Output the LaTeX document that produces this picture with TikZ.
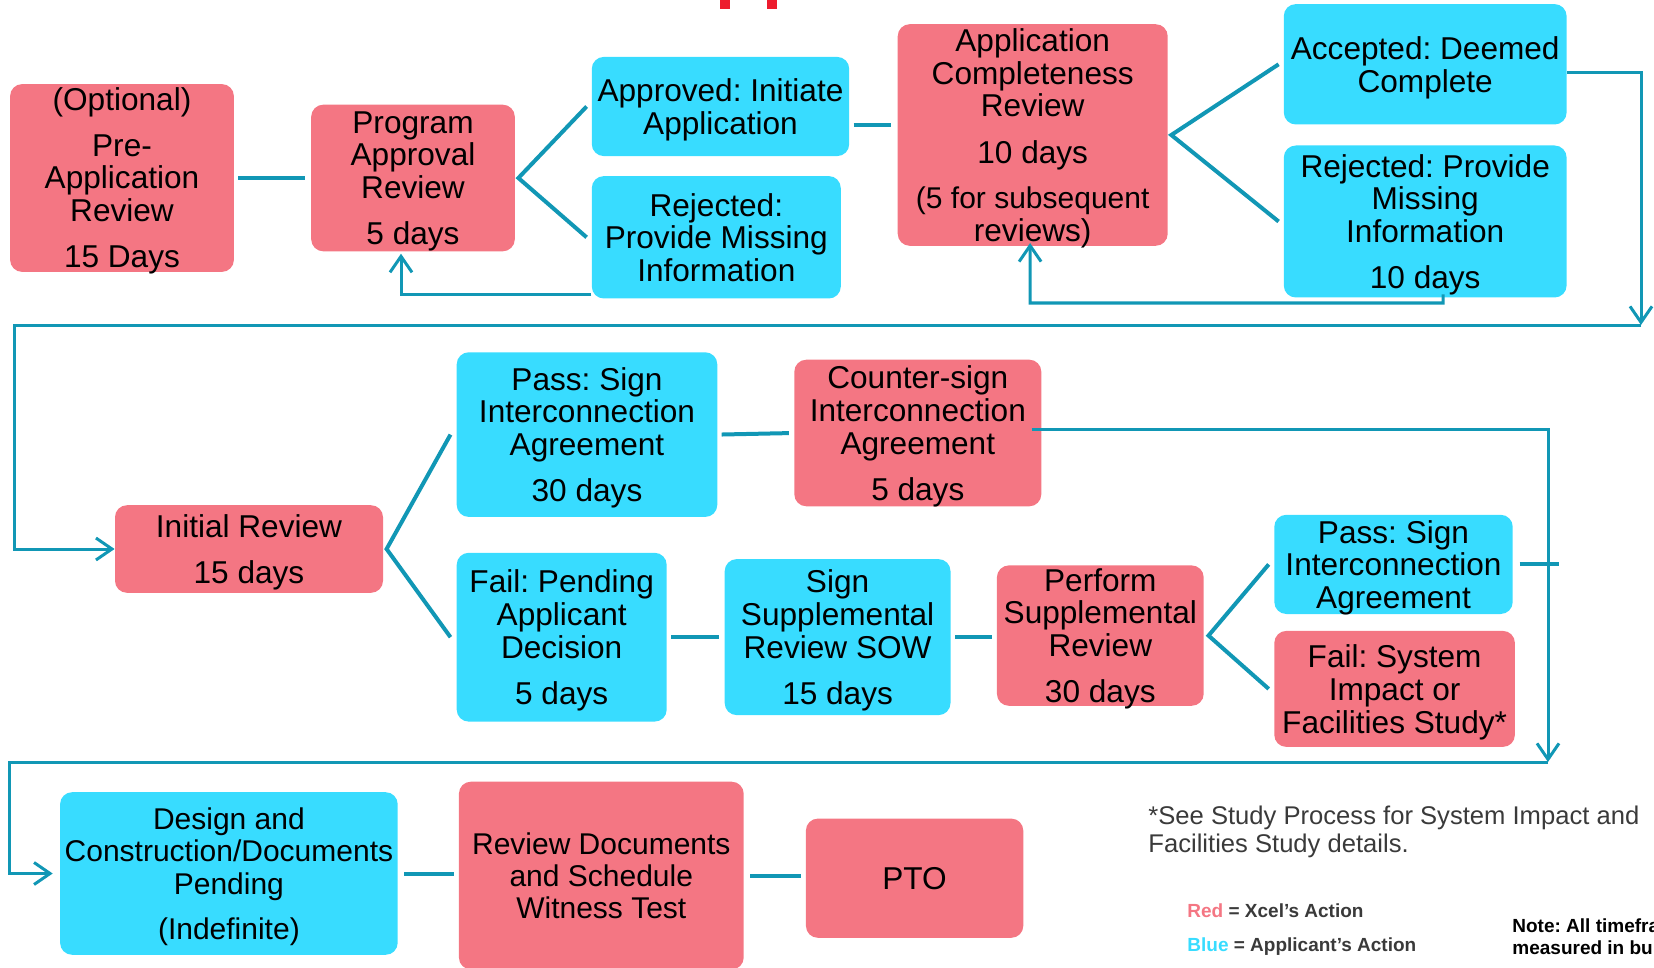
\documentclass[tikz,border=0pt]{standalone}
\usepackage{fontspec}
\setmainfont{Liberation Sans}
\usetikzlibrary{arrows.meta,positioning}
\definecolor{XcelRed}{HTML}{F47683}
\definecolor{ApplicantBlue}{HTML}{38DCFF}
\definecolor{FlowTeal}{HTML}{1197B5}
\definecolor{TitleRed}{HTML}{ED1C2E}
\definecolor{NoteGray}{HTML}{3A3A3A}
\frenchspacing

\begin{document}
\begin{tikzpicture}[x=0.5pt,y=-0.5pt,
    stage/.style={rounded corners=6pt,inner sep=0pt,align=center,text depth=0pt,
      font=\fontsize{15.8}{16.35}\selectfont},
    xcel/.style={stage,fill=XcelRed},
    applicant/.style={stage,fill=ApplicantBlue},
    link/.style={draw=FlowTeal,line width=2pt},
    route/.style={draw=FlowTeal,line width=1.5pt},
    tip/.style={route,-{Straight Barb[length=8pt,width=11pt]}},
    legend/.style={anchor=west,inner sep=0pt,font=\bfseries\fontsize{9.5}{11}\selectfont}
  ]
    \useasboundingbox (0,0) rectangle (1654,968);
    \clip (0,0) rectangle (1654,968);
    \fill[TitleRed] (720,0) rectangle (730,9);
    \fill[TitleRed] (767,0) rectangle (777,9);

    \node[xcel,minimum width=111.9pt,minimum height=93.9pt] (preapp) at (122,178)
      {(Optional)\\[6.3pt]Pre-\\Application\\Review\\[6.8pt]15 Days};
    \node[xcel,minimum width=101.8pt,minimum height=73.3pt] (progrev) at (413,178)
      {Program\\Approval\\Review\\[6.8pt]5 days};
    \node[applicant,minimum width=128.7pt,minimum height=49.6pt] (approved) at (720.5,106.5)
      {Approved: Initiate\\Application};
    \node[applicant,minimum width=124.5pt,minimum height=61.2pt] (rejprog) at (716.3,237.3)
      {Rejected:\\Provide Missing\\Information};
    \node[xcel,minimum width=135pt,minimum height=110.8pt] (complete) at (1032.7,135)
      {Application\\Completeness\\Review\\[6.8pt]10 days\\[6.4pt]\fontsize{15}{15}\selectfont(5 for subsequent\\reviews)};
    \node[applicant,minimum width=141.4pt,minimum height=60.2pt] (accepted) at (1425.2,64.3)
      {Accepted: Deemed\\Complete};
    \node[applicant,minimum width=141.4pt,minimum height=76pt] (rejcomp) at (1425.2,221.5)
      {Rejected: Provide\\Missing\\Information\\[6.8pt]10 days};

    \node[xcel,minimum width=134pt,minimum height=43.8pt] (initial) at (249,549)
      {Initial Review\\[6.8pt]15 days};
    \node[applicant,minimum width=130.3pt,minimum height=82.3pt] (signia) at (587,434.6)
      {Pass: Sign\\Interconnection\\Agreement\\[6.8pt]30 days};
    \node[xcel,minimum width=123.5pt,minimum height=73.3pt] (countersign) at (917.8,433)
      {Counter-sign\\Interconnection\\Agreement\\[6.8pt]5 days};
    \node[applicant,minimum width=105pt,minimum height=84.4pt] (pending) at (561.7,637.2)
      {Fail: Pending\\Applicant\\Decision\\[6.8pt]5 days};
    \node[applicant,minimum width=112.9pt,minimum height=78pt] (sow) at (837.6,637.1)
      {Sign\\Supplemental\\Review SOW\\[6.8pt]15 days};
    \node[xcel,minimum width=103.4pt,minimum height=70.2pt] (supplemental) at (1100.3,635.6)
      {Perform\\Supplemental\\Review\\[6.8pt]30 days};
    \node[applicant,minimum width=119.2pt,minimum height=49.6pt] (signiab) at (1393.5,564.4)
      {Pass: Sign\\Interconnection\\Agreement};
    \node[xcel,minimum width=120.3pt,minimum height=58pt] (study) at (1394.6,688.9)
      {Fail: System\\Impact or\\Facilities Study*};

    \node[applicant,minimum width=168.8pt,minimum height=81.3pt,
      font=\fontsize{15}{16.2}\selectfont] (design) at (228.9,873.5)
      {Design and\\Construction/Documents\\Pending\\[6.5pt](Indefinite)};
    \node[xcel,minimum width=142.4pt,minimum height=93.9pt,
      font=\fontsize{15}{15.8}\selectfont] (witness) at (601.3,875.6)
      {Review Documents\\and Schedule\\Witness Test};
    \node[xcel,minimum width=108.7pt,minimum height=59.6pt] (pto) at (914.6,878.2) {PTO};

    \node[anchor=west,inner sep=0pt,align=left,text=NoteGray,font=\fontsize{12.8}{14.25}\selectfont]
      (footnote) at (1148,832) {*See Study Process for System Impact and\\Facilities Study details.};
    \node[legend,text=NoteGray] (legendred) at (1187,911) {\textcolor{XcelRed}{Red} = Xcel’s Action};
    \node[legend,text=NoteGray] (legendblue) at (1187,947) {\textcolor{ApplicantBlue}{Blue} = Applicant’s Action};
    \node[legend,align=left,text=black] (note) at (1512,937) {Note: All timefra\\measured in bu};

    \coordinate (compback) at (1443,303);
    \coordinate (wrapE) at (1641,325);
    \coordinate (wrapW) at (14,325);
    \coordinate (wraptwoE) at (1548,762);
    \coordinate (wraptwoW) at (9.5,762);
    \coordinate[right=23pt of signiab.east] (stubend);

    \draw[link,shorten <=2pt,shorten >=3pt] (preapp.east) -- (preapp.east -| progrev.west);
    \draw[link] ([xshift=-2.4pt]approved.west) -- ([xshift=1.6pt]progrev.east) -- ([xshift=-2.4pt]rejprog.west);
    \draw[tip] ([yshift=2pt]rejprog.south west) -| ([xshift=-6pt,yshift=-1pt]progrev.south);
    \draw[link,shorten <=2pt,shorten >=3pt] ([yshift=-9.5pt]approved.east) -- ([yshift=-9.5pt]approved.east -| complete.west);
    \draw[link] ([xshift=-2.4pt]accepted.west) -- ([xshift=1.6pt]complete.east) -- ([xshift=-2.4pt]rejcomp.west);
    \draw[tip] ([xshift=8.9pt,yshift=1.8pt]rejcomp.south) -- (compback) -| ([xshift=-1.3pt,yshift=1.6pt]complete.south);
    \draw[tip] ([yshift=-4.3pt]accepted.east) -| (wrapE);
    \draw[tip] (wrapE) -- (wrapW) |- (initial.west);

    \draw[link] ([xshift=-2.9pt]signia.west) -- ([xshift=1.6pt]initial.east) -- ([xshift=-2.9pt]pending.west);
    \draw[link,shorten <=2pt,shorten >=2.5pt] (signia.east) -- (countersign.west);
    \draw[tip] ([xshift=-5pt,yshift=2pt]countersign.east) -| (wraptwoE);
    \draw[tip] (wraptwoE) -- (wraptwoW) |- ([xshift=-3.5pt]design.west);
    \draw[link,shorten <=2.1pt,shorten >=2.8pt] (pending.east) -- (pending.east -| sow.west);
    \draw[link,shorten <=2.2pt,shorten >=2.4pt] (sow.east) -- (sow.east -| supplemental.west);
    \draw[link] ([xshift=-2.6pt]signiab.west) -- ([xshift=2.2pt]supplemental.east) -- ([xshift=-2.6pt]study.west);
    \draw[link] ([xshift=3.2pt]signiab.east) -- (stubend);

    \draw[link,shorten <=3.1pt,shorten >=2.4pt] (design.east) -- (design.east -| witness.west);
    \draw[link,shorten <=3.1pt,shorten >=2.5pt] (witness.east) -- (witness.east -| pto.west);
  \end{tikzpicture}
\end{document}
